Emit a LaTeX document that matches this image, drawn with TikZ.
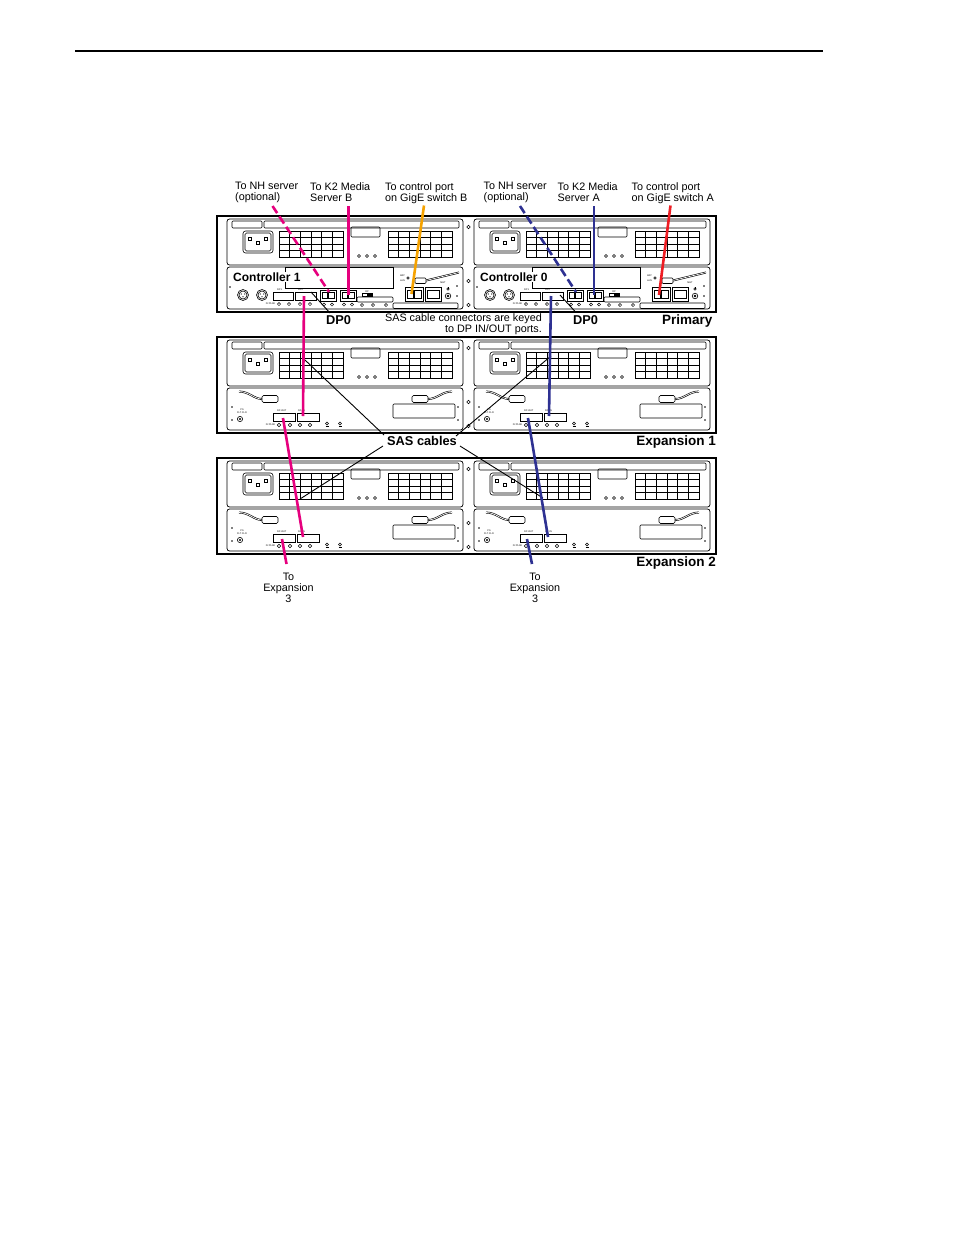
\documentclass[tikz,border=0pt]{standalone}
\usepackage{fontspec}
\setmainfont{Liberation Sans}
\definecolor{cmag}{HTML}{E6007E}
\definecolor{cblue}{HTML}{2E3192}
\definecolor{corange}{HTML}{F5A200}
\definecolor{cred}{HTML}{EE1D23}
\tikzset{
  ln/.style={draw=black, line width=0.6pt},
  panel/.style={draw=black, line width=0.75pt, fill=white, rounded corners=2.5pt},
  chassis/.style={draw=black, line width=2.2pt},
  cable/.style={line width=2.6pt, line cap=butt},
  pointer/.style={draw=black, line width=0.9pt},
  lbl/.style={font=\fontsize{10.8}{11}\selectfont, inner sep=0pt},
  blbl/.style={font=\fontsize{13.5}{14}\selectfont\bfseries, inner sep=0pt},
  dplbl/.style={font=\fontsize{12.8}{14}\selectfont\bfseries, inner sep=0pt},
  ctrl/.style={font=\fontsize{12}{13}\selectfont\bfseries, inner sep=1pt, fill=white},
  tinylbl/.style={font=\fontsize{2.4}{2.6}\selectfont, inner sep=0pt, align=center},
  port/.style={draw=black, line width=0.9pt, fill=white},
  hole/.style={draw=black, line width=0.5pt, fill=white},
}
\newcommand\upperpanel{%
  \draw[panel] (0,3) rectangle (236,49);
  \draw[ln, rounded corners=1pt] (5,5) rectangle (35,12);
  \draw[ln, rounded corners=1pt] (37,5) rectangle (232,12);
  \draw[ln, rounded corners=2.5pt] (16,15) rectangle (46,37);
  \draw[ln, rounded corners=1.5pt] (18,17) rectangle (44,35);
  \draw[ln] (21.5,21) rectangle (24.5,24) (29.5,25) rectangle (32.5,28) (37.5,21) rectangle (40.5,24);
  \foreach \gx in {52,161}{%
    \draw[ln] (\gx,15) rectangle ++(64,26);
    \foreach \i in {1,...,5} \draw[ln] ({\gx+\i*64/6},15) -- ++(0,26);
    \foreach \j in {1,2,3} \draw[ln] (\gx,{15+\j*6.5}) -- ++(64,0);
  }
  \draw[ln, rounded corners=1pt] (124,11) rectangle (153,21);
  \foreach \cx in {132,140,148} \draw[ln] (\cx,40) circle (1.5);
}
\newcommand\explower[1]{%
  \draw[panel] (0,51) rectangle (236,93);
  \draw[ln, double distance=0.7pt] (12,54.5) .. controls (22,54.5) and (27,62) .. (35,62);
  \draw[ln, rounded corners=1.5pt, fill=white] (35,58.5) rectangle (51,65.5);
  \draw[ln, double distance=0.7pt] (201,62) .. controls (210,62) and (215,54.5) .. (225,54.5);
  \draw[ln, rounded corners=1.5pt, fill=white] (185,58.5) rectangle (201,65.5);
  \foreach \p in {(5,70),(5,83),(231,70),(231,83)} \fill \p circle (0.9);
  \draw[ln] (13,82) circle (2.6); \fill (13,82) circle (1.2);
  \node[tinylbl] (#1ps) at (15,74) {PS\\FLT CLR};
  \draw[port] (46,76) rectangle (68,84);
  \draw[port] (70,76) rectangle (92,84);
  \node[tinylbl, anchor=west] (#1dpo) at (50,73.5) {DP-OUT};
  \node[tinylbl, anchor=west] (#1dpi) at (71,73.5) {DP-IN};
  \node[tinylbl, anchor=east] (#1flt) at (48.5,88) {FLT/LNK};
  \foreach \cx in {52,63,73,83} \draw[hole] (\cx,88) circle (1.7);
  \foreach \cx in {100,113} {\draw[ln] (\cx,86.5) circle (1.5); \draw[ln] ({\cx-1.5},89) -- ({\cx+1.5},89);}
  \draw[ln, rounded corners=1pt] (166,67) rectangle (228,81);
}
\newcommand\ctrllower[2]{%
  \draw[panel] (0,51) rectangle (236,93);
  \draw[ln] (58,51.5) rectangle (166,72);
  \fill (3,71) circle (0.8);
  \foreach \cx in {16,35} {\draw[ln, fill=white] (\cx,79) circle (5.5); \draw[ln] (\cx,79) circle (4);
     \fill ({\cx-1.8},78) circle (0.6) ({\cx+1.8},78) circle (0.6) (\cx,80.8) circle (0.6);}
  \draw[port] (46,76) rectangle (66,84);
  \draw[port] (68,76) rectangle (89,84);
  \node[tinylbl, anchor=west] (#1dp1) at (50,73.5) {DP1};
  \node[tinylbl, anchor=west] (#1dp0) at (71,73.5) {DP0};
  \node[tinylbl, anchor=east] (#1flt) at (48.5,88) {FLT/LNK};
  \foreach \cx in {52,62,73,83} \draw[hole] (\cx,88) circle (1.6);
  \foreach \rx in {93,113} {\draw[port] (\rx,74) rectangle ({\rx+16},85);
     \draw[ln] ({\rx+2},76.5) rectangle ({\rx+7.5},82.5); \draw[ln] ({\rx+8.5},76.5) rectangle ({\rx+14},82.5);
     \draw[hole] ({\rx+4},88.5) circle (1.6); \draw[hole] ({\rx+12},88.5) circle (1.6);}
  \draw[ln] (135,77.5) rectangle (145,80); \fill (140,77.5) rectangle (145,80);
  \node[tinylbl] (#1rp) at (140,75.5) {RP};
  \draw[ln, rounded corners=1pt] (130,81) rectangle (166,86);
  \foreach \cx in {135,146,159} \draw[hole] (\cx,89) circle (1.6);
  \draw[ln, double distance=0.7pt] (199,64.5) -- (232,56.5);
  \draw[ln, rounded corners=1pt, fill=white] (188,62) rectangle (199,67.5);
  \node[tinylbl, anchor=east] (#1bat) at (178,59.5) {BAT};
  \node[tinylbl, anchor=east] (#1lan) at (178,65) {LAN};
  \draw[hole] (181,62) circle (1.3);
  \draw[port] (178,71) rectangle (196,85);
  \draw[ln] (180,74) rectangle (186.5,82); \draw[ln] (187.5,74) rectangle (194,82);
  \draw[port] (198,71) rectangle (214,85);
  \draw[ln] (200,74) rectangle (212,82);
  \node[tinylbl] (#1mgt) at (216,67) {MGT};
  \draw[ln] (221,80) circle (2.8); \fill (221,80) circle (1.3);
  \draw[ln] (221,73) circle (1.3); \draw[ln] (221,71) -- (221,73);
  \fill (230,70) circle (0.8) (230,80) circle (0.8);
  \draw[ln, rounded corners=1pt] (166,87) rectangle (231,92.5);
  \node[ctrl, anchor=base west] (#1lbl) at (5,65.3) {#2};
}
\begin{document}
\begin{tikzpicture}[x=1pt,y=-1pt]
\useasboundingbox (0,0) rectangle (954,1235);
\fill[white] (0,0) rectangle (954,1235);
% header rule
\coordinate (hl1) at (75,51); \coordinate (hl2) at (823,51);
\draw[line width=1.2pt] (hl1) -- (hl2);

% chassis frames
\draw[chassis] (217,216) rectangle (716,312);
\draw[chassis] (217,337) rectangle (716,433);
\draw[chassis] (217,458) rectangle (716,554);
\foreach \ty in {216,337,458}{\foreach \yy in {11,65,89} \draw[ln] (468.5,{\ty+\yy}) circle (1.8);}

% primary
\begin{scope}[shift={(227,216)}] \upperpanel \ctrllower{pL}{Controller 1} \end{scope}
\begin{scope}[shift={(474,216)}] \upperpanel \ctrllower{pR}{Controller 0} \end{scope}
% expansion 1
\begin{scope}[shift={(227,337)}] \upperpanel \explower{eaL} \end{scope}
\begin{scope}[shift={(474,337)}] \upperpanel \explower{eaR} \end{scope}
% expansion 2
\begin{scope}[shift={(227,458)}] \upperpanel \explower{ebL} \end{scope}
\begin{scope}[shift={(474,458)}] \upperpanel \explower{ebR} \end{scope}

% labels
\node[lbl, anchor=north west, align=left] (nhB) at (235,182.3) {To NH server\\(optional)};
\node[lbl, anchor=north west, align=left] (k2B) at (310,182.3) {To K2 Media\\Server B};
\node[lbl, anchor=north west, align=left] (ctlB) at (385,182.3) {To control port\\on GigE switch B};
\node[lbl, anchor=north west, align=left] (nhA) at (483.5,182.3) {To NH server\\(optional)};
\node[lbl, anchor=north west, align=left] (k2A) at (557.5,182.3) {To K2 Media\\Server A};
\node[lbl, anchor=north west, align=left] (ctlA) at (631.5,182.3) {To control port\\on GigE switch A};
\node[lbl, anchor=north east, align=right] (keyed) at (542,313.3) {SAS cable connectors are keyed\\to DP IN/OUT ports.};
\node[blbl, anchor=base east] (prim) at (712.5,324) {Primary};
\node[blbl, anchor=base east] (exp1) at (716,445) {Expansion 1};
\node[blbl, anchor=base east] (exp2) at (716,566) {Expansion 2};
\node[dplbl, anchor=base west] (dp0L) at (326,324.5) {DP0};
\node[dplbl, anchor=base west] (dp0R) at (573,324.5) {DP0};
\node[dplbl, anchor=base] (sas) at (422,445.5) {SAS cables};
\node[lbl, anchor=north, align=center] (toE3L) at (288.5,573) {To\\Expansion\\3};
\node[lbl, anchor=north, align=center] (toE3R) at (535,573) {To\\Expansion\\3};

% pointer lines
\coordinate (dpLp) at (311,292); \coordinate (dpLl) at (330,313);
\coordinate (dpRp) at (560,295); \coordinate (dpRl) at (576,312.5);
\draw[pointer] (dpLp) -- (dpLl);
\draw[pointer] (dpRp) -- (dpRl);
\coordinate (sas1) at (384,435); \coordinate (sas1e) at (305,360);
\coordinate (sas2) at (383,446); \coordinate (sas2e) at (300,499);
\coordinate (sas3) at (456,436); \coordinate (sas3e) at (551,356);
\coordinate (sas4) at (460,446); \coordinate (sas4e) at (543,498);
\draw[pointer] (sas1) -- (sas1e);
\draw[pointer] (sas2) -- (sas2e);
\draw[pointer] (sas3) -- (sas3e);
\draw[pointer] (sas4) -- (sas4e);

% cables - controller 1 side (magenta)
\coordinate (nhBs) at (272.5,206); \coordinate (nhBe) at (329,292);
\coordinate (k2Bs) at (348.3,206); \coordinate (k2Be) at (348.3,295);
\coordinate (ctBs) at (424,205.5); \coordinate (ctBe) at (411.5,294);
\coordinate (m1s) at (304,296); \coordinate (m1e) at (303,416);
\coordinate (m2s) at (283,418); \coordinate (m2e) at (303,537);
\coordinate (m3s) at (282,539); \coordinate (m3e) at (286.5,564);
\draw[cable, cmag, dash pattern=on 8.5pt off 4pt] (nhBs) -- (nhBe);
\draw[cable, cmag] (k2Bs) -- (k2Be);
\draw[cable, corange] (ctBs) -- (ctBe);
\draw[cable, cmag] (m1s) -- (m1e);
\draw[cable, cmag] (m2s) -- (m2e);
\draw[cable, cmag] (m3s) -- (m3e);
% cables - controller 0 side (blue)
\coordinate (nhAs) at (520,206); \coordinate (nhAe) at (576,292);
\coordinate (k2As) at (594,206); \coordinate (k2Ae) at (594,295);
\coordinate (ctAs) at (670.5,205.5); \coordinate (ctAe) at (659,295);
\coordinate (b1s) at (551,296); \coordinate (b1e) at (549,416);
\coordinate (b2s) at (528,418); \coordinate (b2e) at (548,537);
\coordinate (b3s) at (527,539); \coordinate (b3e) at (532,564);
\draw[cable, cblue, dash pattern=on 8.5pt off 4pt] (nhAs) -- (nhAe);
\draw[cable, cblue] (k2As) -- (k2Ae);
\draw[cable, cred] (ctAs) -- (ctAe);
\draw[cable, cblue] (b1s) -- (b1e);
\draw[cable, cblue] (b2s) -- (b2e);
\draw[cable, cblue] (b3s) -- (b3e);
\end{tikzpicture}
\end{document}
